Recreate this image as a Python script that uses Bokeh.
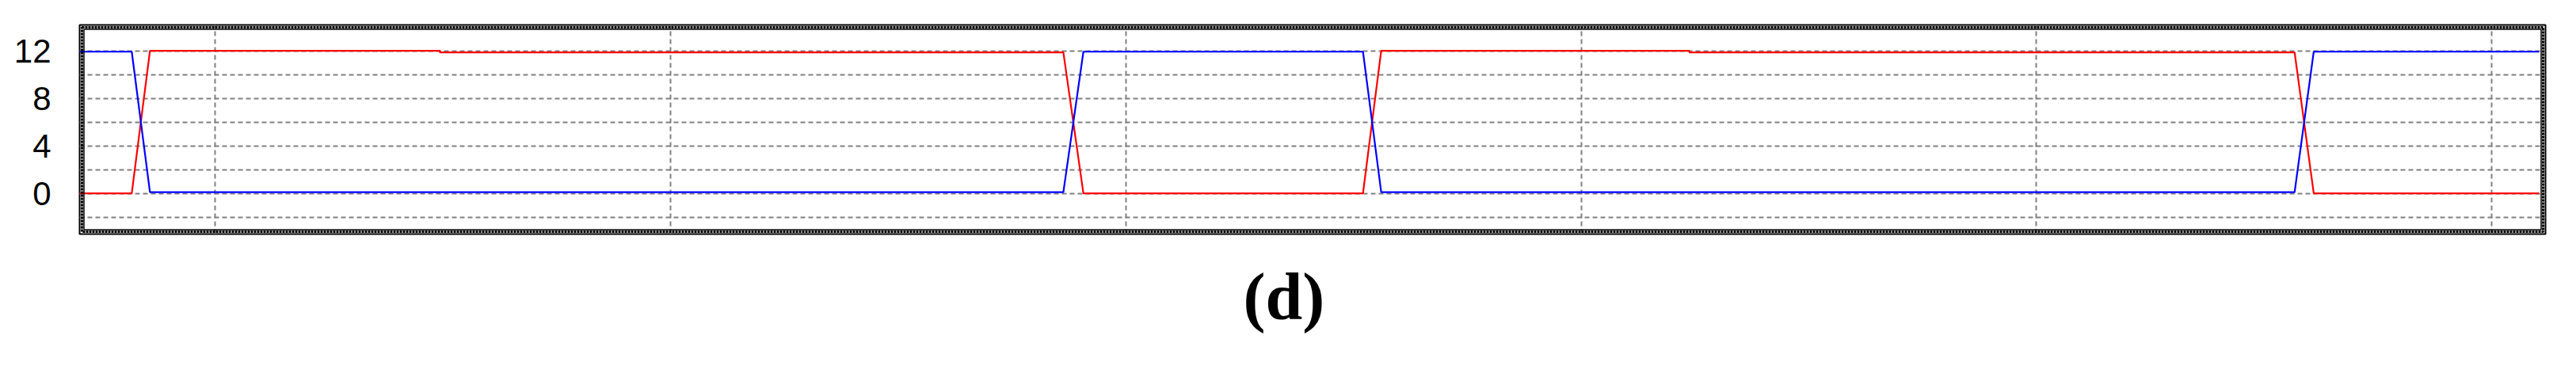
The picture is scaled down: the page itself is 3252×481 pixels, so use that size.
from bokeh.plotting import figure
from bokeh.models import FixedTicker, BoxAnnotation, Title, Range1d
from bokeh.embed import file_html
from bokeh.resources import INLINE

# ---- data (x in arbitrary time units, grid every 10) ----
red_x = [7.0, 8.17, 8.57, 14.94, 14.94, 28.63, 29.07, 35.21, 35.61, 42.38, 42.38, 55.67, 56.09, 61.04]
red_y = [0, 0, 12, 12, 11.87, 11.87, 0, 0, 12, 12, 11.87, 11.87, 0, 0]
blue_x = [7.0, 8.17, 8.57, 28.63, 29.07, 35.21, 35.61, 55.67, 56.09, 61.04]
blue_y = [11.93, 11.93, 0.1, 0.1, 11.93, 11.93, 0.1, 0.1, 11.93, 11.93]
y_ticks = [0, 4, 8, 12]
y_grid = [-2, 0, 2, 4, 6, 8, 10, 12]
x_grid = [10, 20, 30, 40, 50, 60]
caption = "(d)"

X0, X1 = 7.025, 61.18
Y0, Y1 = -3.42, 14.18
FW, FH = 3113, 264

p = figure(width=3236, height=465, output_backend="svg", toolbar_location=None,
           x_range=Range1d(X0, X1), y_range=Range1d(Y0, Y1),
           frame_width=FW, frame_height=FH,
           min_border_left=100, min_border_top=31, min_border_right=23, min_border_bottom=170)
p.background_fill_color = "white"
p.border_fill_color = "white"
p.outline_line_color = "black"
p.outline_line_width = 2

# grids
p.xaxis.visible = False
p.xgrid.ticker = FixedTicker(ticks=x_grid)
p.ygrid.ticker = FixedTicker(ticks=y_grid)
for g in (p.xgrid, p.ygrid):
    g.grid_line_color = "#808080"
    g.grid_line_width = 2
    g.grid_line_dash = "6 4"

# y axis
p.yaxis.ticker = FixedTicker(ticks=y_ticks)
p.yaxis.axis_line_color = None
p.yaxis.major_tick_line_color = None
p.yaxis.minor_tick_line_color = None
p.yaxis.major_tick_out = 0
p.yaxis.major_tick_in = 0
p.yaxis.major_label_standoff = 36
p.yaxis.major_label_text_font = "Liberation Sans"
p.yaxis.major_label_text_font_size = "42px"
p.yaxis.major_label_text_color = "black"

# lines
p.line(red_x, red_y, line_color="#ff0000", line_width=2.2)
p.line(blue_x, blue_y, line_color="#0000ff", line_width=2.2)

# double frame
ux = (X1 - X0) / FW
uy = (Y1 - Y0) / FH
def inset(d, **kw):
    return BoxAnnotation(left=X0 + d * ux, right=X1 - d * ux, bottom=Y0 + d * uy, top=Y1 - d * uy,
                         fill_alpha=0, fill_color=None, **kw)
p.add_layout(inset(3, line_color="black", line_width=3, line_dash="3 1", line_alpha=1))
p.add_layout(inset(5.5, line_color="black", line_width=1.5, line_alpha=1))

p.add_layout(Title(text=caption, align="left", offset=1469, text_font="Liberation Serif",
                   text_font_style="bold", text_font_size="84px", text_color="black",
                   standoff=60), "below")

open("out.html", "w").write(file_html(p, INLINE))
